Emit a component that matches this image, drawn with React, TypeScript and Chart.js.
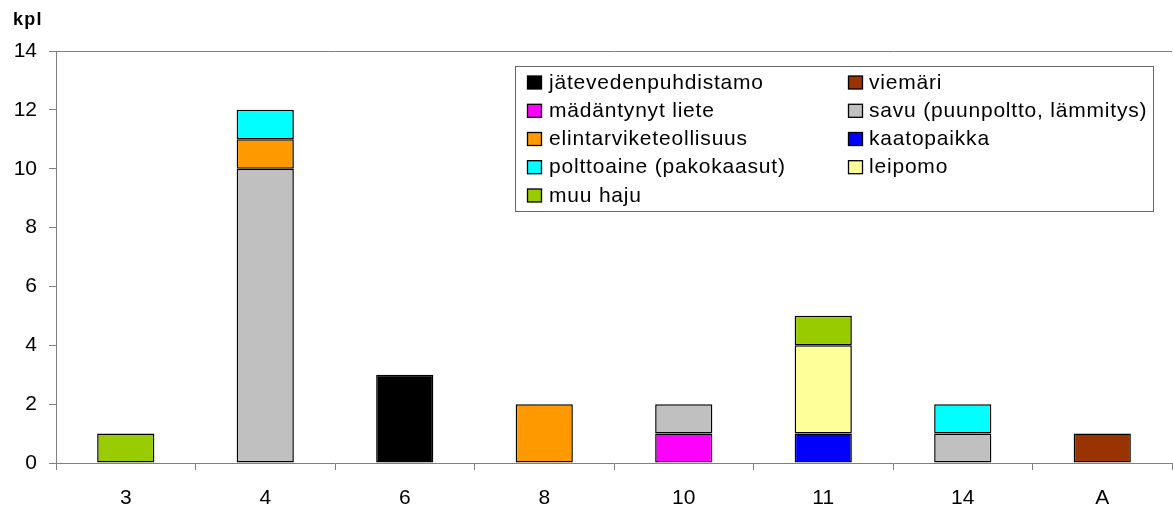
import React, { useEffect, useRef } from "react";
import { Chart, registerables } from "chart.js";

Chart.register(...registerables);

const categories = ["3", "4", "6", "8", "10", "11", "14", "A"];
const yTicks = [0, 2, 4, 6, 8, 10, 12, 14];
const seriesNames = [
  "jätevedenpuhdistamo",
  "viemäri",
  "mädäntynyt liete",
  "savu (puunpoltto, lämmitys)",
  "elintarviketeollisuus",
  "kaatopaikka",
  "polttoaine (pakokaasut)",
  "leipomo",
  "muu haju",
];
const jatevedenpuhdistamo = [null, null, 3, null, null, null, null, null];
const viemari = [null, null, null, null, null, null, null, 1];
const madantynytLiete = [null, null, null, null, 1, null, null, null];
const savu = [null, 10, null, null, 1, null, 1, null];
const elintarviketeollisuus = [null, 1, null, 2, null, null, null, null];
const kaatopaikka = [null, null, null, null, null, 1, null, null];
const polttoaine = [null, 1, null, null, null, null, 1, null];
const leipomo = [null, null, null, null, null, 3, null, null];
const muuHaju = [1, null, null, null, null, 1, null, null];
const seriesValues = [
  jatevedenpuhdistamo,
  viemari,
  madantynytLiete,
  savu,
  elintarviketeollisuus,
  kaatopaikka,
  polttoaine,
  leipomo,
  muuHaju,
];
const seriesColors = [
  "#000000",
  "#993300",
  "#FF00FF",
  "#C0C0C0",
  "#FF9900",
  "#0000FF",
  "#00FFFF",
  "#FFFF99",
  "#99CC00",
];

const FONT = '"Liberation Sans", Arial, sans-serif';

const overlayPlugin = {
  id: "overlay",
  afterDraw(chart: any) {
    const ctx = chart.ctx as any;
    ctx.save();
    // axis title
    ctx.fillStyle = "#000";
    ctx.font = `bold 18px ${FONT}`;
    ctx.letterSpacing = "1.3px";
    ctx.textBaseline = "alphabetic";
    ctx.textAlign = "left";
    ctx.fillText("kpl", 13, 25);
    // legend box
    const bx = 515.5, by = 66.5, bw = 638, bh = 145;
    ctx.fillStyle = "#fff";
    ctx.fillRect(bx, by, bw, bh);
    ctx.strokeStyle = "#666";
    ctx.lineWidth = 1;
    ctx.strokeRect(bx, by, bw, bh);
    const colX = [527, 848];
    const textX = [549, 869];
    const rowY = [82, 110.3, 138.5, 166.7, 195];
    ctx.font = `21px ${FONT}`;
    ctx.letterSpacing = "0.8px";
    ctx.textBaseline = "middle";
    seriesNames.forEach((name, i) => {
      const col = i % 2;
      const row = Math.floor(i / 2);
      const x = colX[col];
      const y = rowY[row];
      ctx.fillStyle = seriesColors[i];
      ctx.fillRect(x + 0.5, y - 6, 14, 13);
      ctx.strokeStyle = "#000";
      ctx.lineWidth = 1.3;
      ctx.strokeRect(x + 0.5, y - 6, 14, 13);
      ctx.fillStyle = "#000";
      ctx.fillText(name, textX[col], y + 1);
    });
    ctx.restore();
  },
};

export default function App() {
  const ref = useRef<HTMLCanvasElement | null>(null);
  useEffect(() => {
    document.body.style.margin = "0";
    const canvas = ref.current!;
    const chart = new Chart(canvas, {
      type: "bar",
      data: {
        labels: categories,
        datasets: seriesNames.map((name, i) => ({
          label: name,
          data: seriesValues[i] as any,
          backgroundColor: seriesColors[i],
          borderColor: "#000",
          borderWidth: 1.5,
          borderSkipped: false,
          categoryPercentage: 1,
          barPercentage: 0.41,
        })),
      },
      options: {
        animation: false,
        responsive: false,
        events: [],
        layout: { padding: { top: 51, right: 1, left: 0, bottom: 0 } },
        plugins: { legend: { display: false }, tooltip: { enabled: false } },
        scales: {
          x: {
            stacked: true,
            offset: true,
            grid: {
              offset: true,
              drawOnChartArea: false,
              tickLength: 7,
              tickColor: "#808080",
            },
            border: { color: "#808080", width: 1 },
            ticks: {
              color: "#000",
              font: { family: FONT, size: 21 },
              padding: 16,
              maxRotation: 0,
            },
            afterFit(scale: any) {
              scale.height = 47;
            },
          },
          y: {
            stacked: true,
            min: 0,
            max: 14,
            afterBuildTicks(scale: any) {
              scale.ticks = yTicks.map((v) => ({ value: v }));
            },
            grid: {
              color: (c: any) => (c.tick && c.tick.value === 14 ? "#808080" : "rgba(0,0,0,0)"),
              tickColor: "#808080",
              tickLength: 7,
            },
            border: { color: "#808080", width: 1 },
            ticks: {
              color: "#000",
              font: { family: FONT, size: 21 },
              padding: 12,
            },
            afterFit(scale: any) {
              scale.width = 56;
            },
          },
        },
      },
      plugins: [overlayPlugin],
    });
    return () => chart.destroy();
  }, []);
  return (
    <div style={{ position: "fixed", left: 0, top: 0, width: 1173, height: 510, background: "#fff" }}>
      <canvas ref={ref} width={1173} height={510} style={{ width: 1173, height: 510, display: "block" }} />
    </div>
  );
}
